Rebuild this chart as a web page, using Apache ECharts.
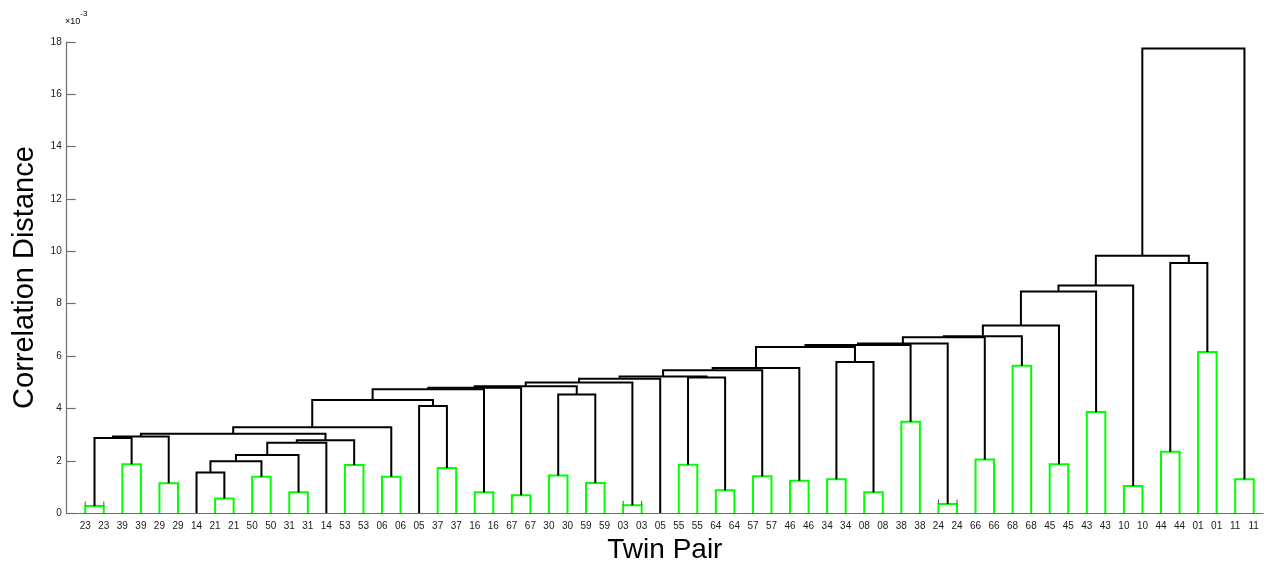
<!DOCTYPE html>
<html>
<head>
<meta charset="utf-8">
<script src="https://cdn.jsdelivr.net/npm/echarts@6/dist/echarts.min.js"></script>
<style>
  html, body { margin: 0; padding: 0; background: #ffffff; }
  #chart { width: 1266px; height: 569px; }
</style>
</head>
<body>
<div id="chart"></div>
<script>
// Twin pair IDs of the leaves, in dendrogram order
const leafLabels = [
  '23','23','39','39','29','29','14','21','21','50','50','31','31','14','53','53',
  '06','06','05','37','37','16','16','67','67','30','30','59','59','03','03','05',
  '55','55','64','64','57','57','46','46','34','34','08','08','38','38','24','24',
  '66','66','68','68','45','45','43','43','10','10','44','44','01','01','11','11'
];

// Linkage rows [left, right, height in 1e-3]; ids 1..64 are leaves,
// id 64+k refers to the cluster created by row k.
const pairLinks = [
  [1, 2, 0.27], [3, 4, 1.87], [5, 6, 1.14], [8, 9, 0.56], [10, 11, 1.39],
  [12, 13, 0.80], [15, 16, 1.84], [17, 18, 1.39], [20, 21, 1.72], [22, 23, 0.80],
  [24, 25, 0.68], [26, 27, 1.44], [28, 29, 1.15], [30, 31, 0.30], [33, 34, 1.85],
  [35, 36, 0.87], [37, 38, 1.41], [39, 40, 1.24], [41, 42, 1.29], [43, 44, 0.80],
  [45, 46, 3.49], [47, 48, 0.35], [49, 50, 2.05], [51, 52, 5.63], [53, 54, 1.87],
  [55, 56, 3.86], [57, 58, 1.04], [59, 60, 2.34], [61, 62, 6.16], [63, 64, 1.29]
];
const clusterLinks = [
  [65, 66, 2.87], [95, 67, 2.93], [7, 68, 1.55], [97, 69, 1.98], [98, 70, 2.22],
  [99, 14, 2.69], [100, 71, 2.78], [96, 101, 3.03], [102, 72, 3.28], [19, 73, 4.09],
  [103, 104, 4.32], [105, 74, 4.73], [106, 75, 4.79], [76, 77, 4.53], [107, 108, 4.85],
  [109, 78, 4.99], [110, 32, 5.13], [79, 80, 5.18], [111, 112, 5.22], [113, 81, 5.46],
  [114, 82, 5.54], [83, 84, 5.77], [115, 116, 6.35], [117, 85, 6.42], [118, 86, 6.48],
  [119, 87, 6.72], [120, 88, 6.76], [121, 89, 7.17], [122, 90, 8.47], [123, 91, 8.70],
  [92, 93, 9.56], [124, 125, 9.83], [126, 94, 17.75]
];
const linkage = pairLinks.concat(clusterLinks);

const yTicks = [0, 2, 4, 6, 8, 10, 12, 14, 16, 18];

// Lay out the tree: leaves at 1..n, clusters centred over their children
const n = leafLabels.length;
const nodeX = [], nodeH = [];
for (let i = 1; i <= n; i++) { nodeX[i] = i; nodeH[i] = 0; }
const links = [];
linkage.forEach(function (row, k) {
  const a = row[0], b = row[1], h = row[2];
  const id = n + 1 + k;
  nodeX[id] = (nodeX[a] + nodeX[b]) / 2;
  nodeH[id] = h;
  const twin = a <= n && b <= n && leafLabels[a - 1] === leafLabels[b - 1];
  links.push([nodeX[a], nodeH[a], nodeX[b], nodeH[b], h, twin ? 1 : 0]);
});

const TIGHT = 0.4;      // pairs joined this low get small end marks
const MARK = 0.17;
const FONT = 'Liberation Sans, Arial, sans-serif';

const chart = echarts.init(document.getElementById('chart'), null, { renderer: 'canvas' });
chart.setOption({
  animation: false,
  backgroundColor: '#ffffff',
  textStyle: { fontFamily: FONT },
  grid: { left: 66.7, right: 0, top: 42, bottom: 52.5, containLabel: false },
  xAxis: {
    type: 'value', min: 0, max: 64.5, interval: 1,
    name: 'Twin Pair', nameLocation: 'middle', nameGap: 22,
    nameTextStyle: { fontSize: 28, color: '#000', fontFamily: FONT },
    axisLine: { show: true, lineStyle: { color: '#6e6e6e', width: 1.2 } },
    axisTick: { show: false },
    splitLine: { show: false },
    axisLabel: {
      fontSize: 10, color: '#1a1a1a', margin: 8, showMinLabel: true, showMaxLabel: true,
      formatter: function (v) {
        return (Number.isInteger(v) && v >= 1 && v <= n) ? leafLabels[v - 1] : '';
      }
    }
  },
  yAxis: {
    type: 'value', min: yTicks[0], max: yTicks[yTicks.length - 1], interval: 2,
    name: 'Correlation Distance', nameLocation: 'middle', nameGap: 12, nameRotate: 90,
    nameTextStyle: { fontSize: 29, color: '#000', fontFamily: FONT },
    axisLine: { show: true, lineStyle: { color: '#6e6e6e', width: 1.2 } },
    axisTick: { show: true, inside: true, length: 9, lineStyle: { color: '#6e6e6e', width: 1.2 } },
    splitLine: { show: false },
    axisLabel: { fontSize: 10, color: '#1a1a1a', margin: 5 }
  },
  graphic: [{
    type: 'text', left: 65, top: 10,
    style: {
      text: '{a|×10}{b|-3}',
      rich: {
        a: { fontSize: 9, color: '#1a1a1a', fontFamily: FONT, verticalAlign: 'bottom', lineHeight: 16 },
        b: { fontSize: 8, color: '#1a1a1a', fontFamily: FONT, verticalAlign: 'top', lineHeight: 16 }
      }
    }
  }],
  series: [{
    type: 'custom',
    coordinateSystem: 'cartesian2d',
    encode: { x: [0, 2], y: [1, 3, 4] },
    data: links,
    clip: false,
    renderItem: function (params, api) {
      const xl = api.value(0), hl = api.value(1), xr = api.value(2), hr = api.value(3);
      const h = api.value(4), twin = api.value(5) === 1;
      const pts = [api.coord([xl, hl]), api.coord([xl, h]), api.coord([xr, h]), api.coord([xr, hr])];
      const children = [{
        type: 'polyline', shape: { points: pts },
        style: { stroke: twin ? '#00ff00' : '#000000', lineWidth: 2, fill: null }
      }];
      if (twin && h < TIGHT) {
        [xl, xr].forEach(function (x) {
          const p = api.coord([x, h]), q = api.coord([x, h + MARK]);
          children.push({
            type: 'line', shape: { x1: p[0], y1: p[1], x2: q[0], y2: q[1] },
            style: { stroke: '#555555', lineWidth: 1 }
          });
        });
      }
      return { type: 'group', children: children };
    }
  }]
});
</script>
</body>
</html>
